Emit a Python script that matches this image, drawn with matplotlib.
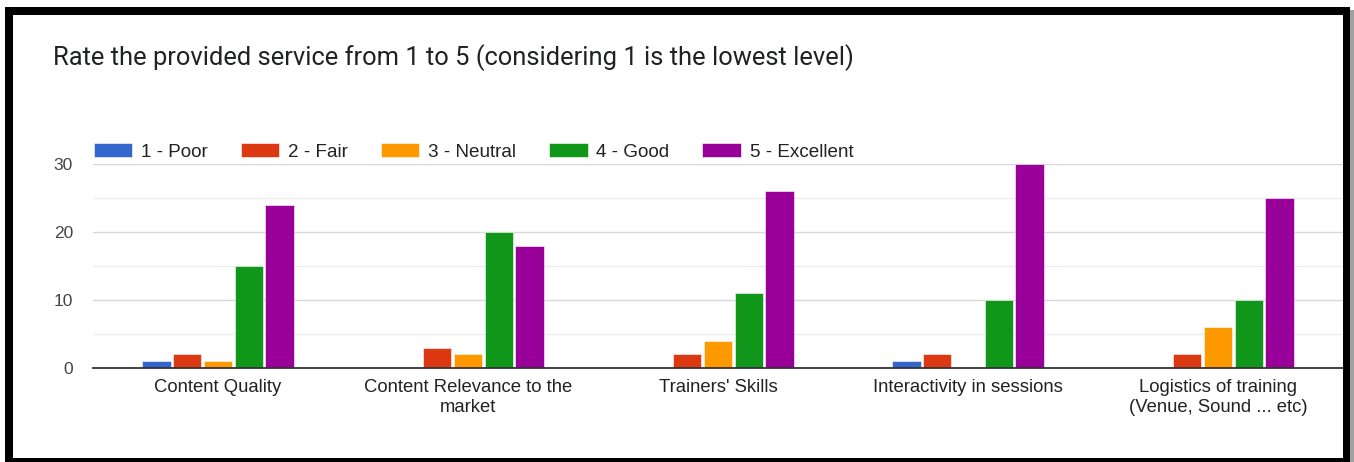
import matplotlib
matplotlib.use("Agg")
import matplotlib.pyplot as plt
from matplotlib.patches import Rectangle
import numpy as np

categories = [
    "Content Quality",
    "Content Relevance to the\nmarket",
    "Trainers' Skills",
    "Interactivity in sessions",
    "Logistics of training\n(Venue, Sound ... etc)",
]
series_names = ["1 - Poor", "2 - Fair", "3 - Neutral", "4 - Good", "5 - Excellent"]
poor = [1, 0, 0, 1, 0]
fair = [2, 3, 2, 2, 2]
neutral = [1, 2, 4, 0, 6]
good = [15, 20, 11, 10, 10]
excellent = [24, 18, 26, 30, 25]
y_ticks = [0, 10, 20, 30]

series_values = [poor, fair, neutral, good, excellent]
colors = ["#3366CC", "#DC3912", "#FF9900", "#109618", "#990099"]

W, H = 1354, 462
fig = plt.figure(figsize=(W / 100, H / 100), dpi=100)
fig.patch.set_facecolor("white")

# frame around the card, with a soft shadow on the right
fig.add_artist(Rectangle((1345 / W, 0), 9 / W, (H - 10) / H, transform=fig.transFigure,
                         facecolor="#a0a0a0", edgecolor="none", zorder=-3))
fig.add_artist(Rectangle((5 / W, 0), (1350 - 5) / W, (H - 7) / H,
                         transform=fig.transFigure, facecolor="black",
                         edgecolor="none", zorder=-2))
fig.add_artist(Rectangle((13 / W, 4 / H), (1343 - 13) / W, (H - 15 - 4) / H,
                         transform=fig.transFigure, facecolor="white",
                         edgecolor="none", zorder=-1))

# axes area in pixels: x 93..1343, y 164..368
ax_left, ax_right = 93, 1343
ax_top, ax_bottom = 164, 368
ax = fig.add_axes([ax_left / W, (H - ax_bottom) / H,
                   (ax_right - ax_left) / W, (ax_bottom - ax_top) / H])
ax.set_facecolor("none")

n_cat = len(categories)
n_ser = len(series_values)
x = np.arange(n_cat)
slot = 0.123
bar_w = 0.113
for i, (name, vals, c) in enumerate(zip(series_names, series_values, colors)):
    offs = (i - (n_ser - 1) / 2) * slot
    ax.bar(x + offs, vals, width=bar_w, color=c, label=name, zorder=3,
           edgecolor="white", linewidth=0.4)

ax.set_xlim(-0.5, n_cat - 0.5)
ax.set_ylim(0, 30)
ax.set_yticks(y_ticks)
ax.set_yticks([5, 15, 25], minor=True)
ax.tick_params(axis="y", which="both", length=0, pad=14.4, labelsize=12.5,
               labelcolor="#444444")
ax.tick_params(axis="x", length=0, pad=8, labelsize=13.3, labelcolor="#222222")
for lab in ax.get_yticklabels() + ax.get_xticklabels():
    lab.set_fontfamily("Liberation Sans")
ax.set_xticks(x)
ax.set_xticklabels(categories, linespacing=1.2)
ax.grid(axis="y", which="major", color="#d8d8d8", linewidth=1.0, zorder=0)
ax.grid(axis="y", which="minor", color="#ececec", linewidth=1.0, zorder=0)
for s in ["top", "right", "left"]:
    ax.spines[s].set_visible(False)
ax.spines["bottom"].set_color("#333333")
ax.spines["bottom"].set_linewidth(1.3)
ax.spines["bottom"].set_zorder(4)

leg = fig.legend(loc="center left", bbox_to_anchor=(86 / W, 1 - 152 / H),
                 ncol=5, frameon=False, handlelength=2.05, handleheight=0.75,
                 handletextpad=0.45, columnspacing=1.75, borderaxespad=0,
                 prop={"family": "Liberation Sans", "size": 13.6})
for t in leg.get_texts():
    t.set_color("#222222")

fig.text(53 / W, 1 - 58 / H, "Rate the provided service from 1 to 5 (considering 1 is the lowest level)",
         fontsize=18.4, family="Roboto", color="#202124", va="center", ha="left")

fig.savefig("out.png", dpi=100)
